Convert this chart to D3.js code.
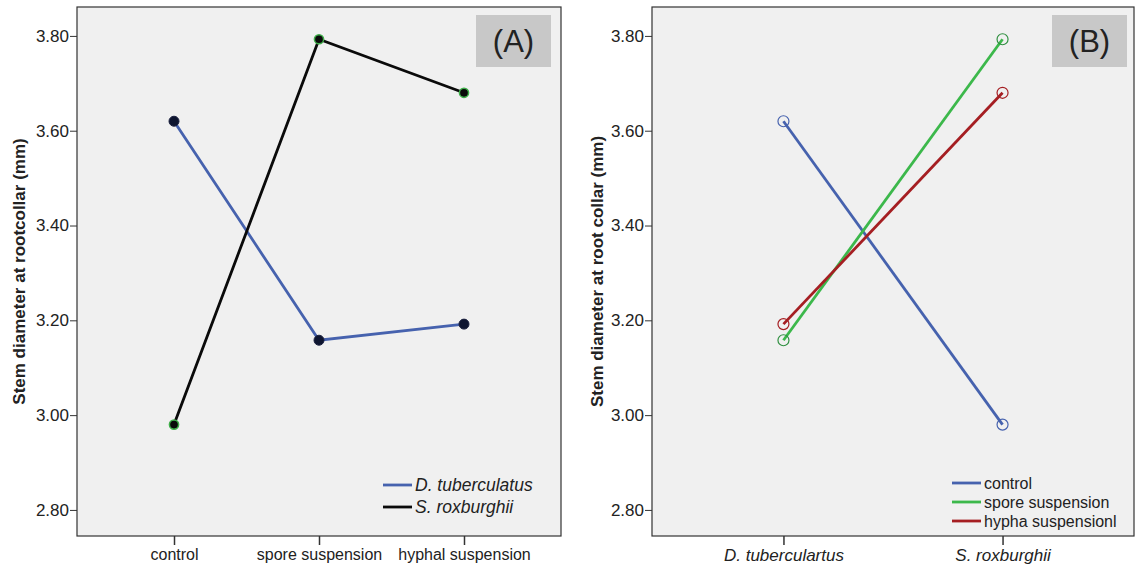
<!DOCTYPE html>
<html lang="en">
<head>
    <meta charset="UTF-8">
    <title>Stem diameter interaction plots</title>
    <script src="https://d3js.org/d3.v7.min.js"></script>
    <style>
        body { margin: 0; background: #fff; }
        text { font-family: Arial, "Liberation Sans", sans-serif; fill: #222; }
    </style>
</head>
<body>
    <div id="chart"></div>

    <script>
        // Data
        const treatments = ['control', 'spore suspension', 'hyphal suspension'];
        const species = ['D. tuberculatus', 'S. roxburghii'];
        const dTuberculatus = [3.62, 3.158, 3.192];
        const sRoxburghii = [2.98, 3.793, 3.68];

        const speciesB = ['D. tuberculartus', 'S. roxburghii'];
        const treatmentsB = ['control', 'spore suspension', 'hypha suspensionl'];
        const controlB = [3.62, 2.98];
        const sporeB = [3.158, 3.793];
        const hyphaB = [3.192, 3.68];

        const yTicks = [2.80, 3.00, 3.20, 3.40, 3.60, 3.80];

        const W = 1135, H = 569;
        const svg = d3.select('#chart').append('svg')
            .attr('width', W).attr('height', H);

        const plotTop = 7, plotBottom = 536;
        const y = d3.scaleLinear().domain([2.745, 3.861]).range([plotBottom, plotTop]);

        function panel(opts) {
            const g = svg.append('g');
            const x = d3.scalePoint().domain(opts.cats).range([opts.left, opts.right]).padding(opts.pad);

            g.append('rect')
                .attr('x', opts.left).attr('y', plotTop)
                .attr('width', opts.right - opts.left).attr('height', plotBottom - plotTop)
                .attr('fill', '#f0f0f0').attr('stroke', '#333').attr('stroke-width', 1.2);

            // y axis
            const ya = g.append('g').attr('transform', `translate(${opts.left},0)`)
                .call(d3.axisLeft(y).tickValues(yTicks).tickFormat(d3.format('.2f')).tickSize(7).tickPadding(1));
            ya.select('.domain').remove();
            ya.selectAll('line').attr('stroke', '#333');
            ya.selectAll('text').style('font-size', '17px').attr('fill', '#333');

            // x axis
            const xa = g.append('g').attr('transform', `translate(0,${plotBottom})`)
                .call(d3.axisBottom(x).tickSize(9).tickPadding(4));
            xa.select('.domain').remove();
            xa.selectAll('line').attr('stroke', '#333').attr('stroke-width', 1.5);
            xa.selectAll('text').style('font-size', opts.xFont).style('font-style', opts.xStyle).attr('fill', '#222');

            g.append('text')
                .attr('transform', `translate(${opts.titleX},${(plotTop + plotBottom) / 2}) rotate(-90)`)
                .attr('text-anchor', 'middle').attr('dy', '0.35em')
                .style('font-size', '17px').style('font-weight', 'bold')
                .text(opts.yTitle);

            // label box
            g.append('rect')
                .attr('x', opts.boxX).attr('y', 15).attr('width', 75).attr('height', 52)
                .attr('fill', '#c8c8c8');
            g.append('text')
                .attr('x', opts.boxX + 37.5).attr('y', 41).attr('dy', '0.36em')
                .attr('text-anchor', 'middle').style('font-size', '31px').attr('fill', '#111')
                .text(opts.tag);

            const line = d3.line().x((d, i) => x(opts.cats[i])).y(d => y(d));
            opts.series.forEach(s => {
                g.append('path').datum(s.values)
                    .attr('d', line).attr('fill', 'none')
                    .attr('stroke', s.color).attr('stroke-width', 2.8);
            });
            opts.series.forEach(s => {
                g.selectAll(null).data(s.values).enter().append('circle')
                    .attr('cx', (d, i) => x(opts.cats[i])).attr('cy', d => y(d))
                    .attr('r', s.r)
                    .attr('fill', s.fill).attr('stroke', s.edge).attr('stroke-width', s.ew);
            });

            // legend
            const lg = g.append('g');
            opts.series.forEach((s, i) => {
                const ly = opts.legY + i * opts.legStep;
                lg.append('line')
                    .attr('x1', opts.legX).attr('x2', opts.legX + 29)
                    .attr('y1', ly).attr('y2', ly)
                    .attr('stroke', s.color).attr('stroke-width', 2.8);
                lg.append('text')
                    .attr('x', opts.legX + 32).attr('y', ly).attr('dy', '0.35em')
                    .style('font-size', opts.legFont).style('font-style', opts.legStyle)
                    .attr('fill', '#111')
                    .text(s.name);
            });
        }

        panel({
            left: 77, right: 561, pad: 0.669, cats: treatments,
            xFont: '16px', xStyle: 'normal',
            yTitle: 'Stem diameter at rootcollar (mm)', titleX: 19, tag: '(A)', boxX: 476,
            legX: 383, legY: 485, legStep: 22, legFont: '17.5px', legStyle: 'italic',
            series: [
                { name: species[0], values: dTuberculatus, color: '#4662ae', fill: '#0e1530', edge: '#1c2240', ew: 1, r: 5 },
                { name: species[1], values: sRoxburghii, color: '#0a0a0a', fill: '#0a0a0a', edge: '#3fae4a', ew: 1.5, r: 4.6 }
            ]
        });

        panel({
            left: 652, right: 1134, pad: 0.6, cats: speciesB,
            xFont: '17px', xStyle: 'italic',
            yTitle: 'Stem diameter at root collar (mm)', titleX: 597, tag: '(B)', boxX: 1052,
            legX: 952, legY: 483, legStep: 19, legFont: '16px', legStyle: 'normal',
            series: [
                { name: treatmentsB[0], values: controlB, color: '#4662ae', fill: 'none', edge: '#4662ae', ew: 1.2, r: 5.5 },
                { name: treatmentsB[1], values: sporeB, color: '#3cb84b', fill: 'none', edge: '#2f8f40', ew: 1.2, r: 5.5 },
                { name: treatmentsB[2], values: hyphaB, color: '#a51e22', fill: 'none', edge: '#a51e22', ew: 1.2, r: 5.5 }
            ]
        });
    </script>
</body>
</html>
